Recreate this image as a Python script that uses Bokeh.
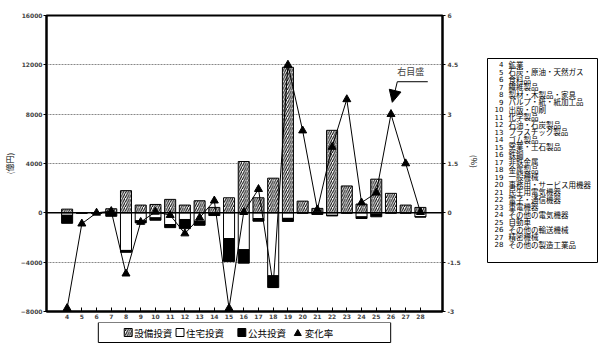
import math
from bokeh.plotting import figure
from bokeh.models import (Range1d, LinearAxis, FixedTicker, CustomJSTickFormatter, Span,
                          Label, Arrow, NormalHead, ColumnDataSource)
from bokeh.layouts import row, column
from bokeh.core.properties import value
from bokeh.embed import file_html
from bokeh.resources import INLINE

# ---------------- data ----------------
cats = list(range(4, 29))
equip = [300, 0, 0, 330, 1800, 630, 680, 1090, 630, 980, 440, 1220, 4160, 1220,
         2810, 11800, 950, 360, 6690, 2180, 710, 2730, 1580, 630, 440]
housing = [-200, 0, 0, -60, -3050, -650, -410, -950, -540, -680, -30, -2090, -2990, -460,
           -5110, -450, 0, 0, -200, 0, -330, -100, 0, 0, -330]
public = [-650, 0, 0, -220, -150, -165, -190, -250, -740, -330, -190, -1850, -1090, -220,
          -950, -250, 0, -130, -50, 0, -130, -220, 0, 0, 0]
rate = [-2.9, -0.33, 0.0, 0.05, -1.85, -0.28, 0.03, -0.07, -0.63, -0.15, 0.37, -2.9, 0.02, 0.72,
        -2.2, 4.5, 2.5, 0.1, 2.0, 3.45, 0.31, 0.61, 3.0, 1.5, 0.02]
left_ticks = [-8000, -4000, 0, 4000, 8000, 12000, 16000]
right_ticks = [-3, -1.5, 0, 1.5, 3, 4.5, 6]
industries = ["鉱業", "石炭・原油・天然ガス", "食料品", "繊維製品", "製材・木製品・家具",
              "パルプ・紙・紙加工品", "出版・印刷", "化学製品", "石油・石炭製品", "プラスチック製品",
              "ゴム製品", "窯業・土石製品", "鉄鋼", "非鉄金属", "金属製品", "一般機械",
              "事務用・サービス用機器", "民生用電気機器", "電子・通信機器", "重電機器",
              "その他の電気機器", "自動車", "その他の輸送機械", "精密機械", "その他の製造工業品"]
series_names = ["設備投資", "住宅投資", "公共投資", "変化率"]
left_unit = "(億円)"
right_unit = "(%)"

JP = "Noto Sans CJK JP"
NUMF = "DejaVu Sans"
HATCH = dict(hatch_pattern="/", hatch_color="black", hatch_scale=4.5, hatch_weight=1)

src = ColumnDataSource(dict(
    x=cats, eq=equip, ho=housing,
    hp=[h + g for h, g in zip(housing, public)],
    rate=rate))

xr = Range1d(2.6, 29.5)
p = figure(width=448, height=322, x_range=xr, y_range=Range1d(-8000, 16000),
           output_backend="svg", toolbar_location=None,
           min_border_left=25, min_border_right=23, min_border_top=15, min_border_bottom=11)
p.extra_y_ranges = {"pct": Range1d(-3, 6)}
p.outline_line_color = "black"
p.outline_line_width = 2

# grid
p.xgrid.visible = False
p.ygrid.ticker = FixedTicker(ticks=[t for t in left_ticks if t != 0])
p.ygrid.grid_line_color = "#888888"
p.ygrid.grid_line_dash = "2 1"
p.ygrid.grid_line_width = 1

# bars
p.vbar(x="x", top="eq", bottom=0, width=0.75, source=src, fill_color="white",
       line_color="black", line_width=1, **HATCH)
p.vbar(x="x", top=0, bottom="ho", width=0.75, source=src, fill_color="white",
       line_color="black", line_width=1)
p.vbar(x="x", top="ho", bottom="hp", width=0.75, source=src, fill_color="black",
       line_color="black", line_width=1)

p.add_layout(Span(location=0, dimension="width", line_color="black", line_width=1.5))

# rate line
p.line(x="x", y="rate", source=src, y_range_name="pct", line_color="black", line_width=1)
p.scatter(x="x", y="rate", source=src, y_range_name="pct", marker="triangle",
          size=8, fill_color="black", line_color="black")

# axes
xa = p.xaxis[0]
xa.ticker = FixedTicker(ticks=cats)
xa.major_tick_in = 4
xa.major_tick_out = 0
xa.minor_tick_line_color = None
xa.axis_line_width = 2
xa.major_label_text_font = NUMF
xa.major_label_text_font_size = "6px"
xa.major_label_text_font_style = "bold"
xa.major_label_standoff = 2

ya = p.yaxis[0]
ya.ticker = FixedTicker(ticks=left_ticks)
ya.major_tick_in = 0
ya.major_tick_out = 3
ya.minor_tick_line_color = None
ya.axis_line_width = 2
ya.major_label_text_font = NUMF
ya.major_label_text_font_size = "6px"
ya.major_label_text_font_style = "bold"
ya.major_label_standoff = 1

ra = LinearAxis(y_range_name="pct", ticker=FixedTicker(ticks=right_ticks),
                formatter=CustomJSTickFormatter(code="return String(tick);"))
ra.major_tick_in = 0
ra.major_tick_out = 3
ra.minor_tick_line_color = None
ra.axis_line_width = 2
ra.major_label_text_font = NUMF
ra.major_label_text_font_size = "6px"
ra.major_label_text_font_style = "bold"
ra.major_label_standoff = 2
p.add_layout(ra, "right")

# annotation "右目盛" pointing at the rate point of category 26
i26 = cats.index(26)
ax, ay = cats[i26], rate[i26] * 8000 / 3.0
p.add_layout(Label(x=ax + 0.43, y=ay + 3420, text="右目盛", text_font=JP, text_font_size="9px",
                   text_baseline="middle", text_align="left"))
p.segment(x0=[ax + 0.43], y0=[ay + 2630], x1=[ax + 2.5], y1=[ay + 2630], line_color="black",
          line_width=1)
p.add_layout(Arrow(end=NormalHead(size=12, fill_color="black", line_color="black"),
                   x_start=ax + 0.43, y_start=ay + 2630, x_end=ax + 0.09, y_end=ay + 960,
                   line_color="black", line_width=1))

# bottom legend strip: shares the category x range, pixel y
leg = figure(width=448, height=29, x_range=xr, y_range=Range1d(29, 0),
             output_backend="svg", toolbar_location=None, min_border=0,
             x_axis_location=None, y_axis_location=None)
leg.grid.visible = False
leg.outline_line_color = None
leg.quad(left=[6.12], right=[25.98], top=[0], bottom=[20], fill_color="white",
         line_color="black", line_width=1)
gx = [7.88, 11.4, 15.6]
gw = 0.54
leg.quad(left=[gx[0]], right=[gx[0] + gw], top=[6], bottom=[14], fill_color="white",
         line_color="black", line_width=1, **HATCH)
leg.quad(left=[gx[1]], right=[gx[1] + gw], top=[6], bottom=[14], fill_color="white",
         line_color="black", line_width=1)
leg.quad(left=[gx[2]], right=[gx[2] + gw], top=[6], bottom=[14], fill_color="black",
         line_color="black", line_width=1)
leg.scatter(x=[19.67], y=[11], marker="triangle", size=7, fill_color="black", line_color="black")
leg.text(x=[8.56, 12.08, 16.28, 20.15], y=[10.5] * 4, text=series_names, text_font=value(JP),
         text_font_size="9.5px", text_align="left", text_baseline="middle")

# left strip with the left-axis unit (pixel coordinates)
s = figure(width=17, height=351, x_range=Range1d(0, 17), y_range=Range1d(351, 0),
           output_backend="svg", toolbar_location=None, min_border=0,
           x_axis_location=None, y_axis_location=None)
s.grid.visible = False
s.outline_line_color = None
s.text(x=[8.5], y=[163], text=[left_unit], angle=math.pi / 2, text_font=value(JP),
       text_font_size="8px", text_align="center", text_baseline="middle")

# right-hand strip: right-axis unit and list box (pixel coordinates)
q = figure(width=135, height=351, x_range=Range1d(465, 600), y_range=Range1d(351, 0),
           output_backend="svg", toolbar_location=None, min_border=0,
           x_axis_location=None, y_axis_location=None)
q.grid.visible = False
q.outline_line_color = None
q.text(x=[474], y=[161], text=[right_unit], angle=-math.pi / 2, text_font=value(JP),
       text_font_size="8px", text_align="center", text_baseline="middle")
q.quad(left=[487], right=[597], top=[58], bottom=[262], fill_color="white",
       line_color="black", line_width=1)
ys = [63.5 + 7.52 * i for i in range(len(cats))]
q.text(x=[503] * len(cats), y=ys, text=[str(c) for c in cats], text_font=value(NUMF),
       text_font_size="7px", text_align="right", text_baseline="middle")
q.text(x=[508] * len(cats), y=ys, text=industries, text_font=value(JP),
       text_font_size="7.5px", text_align="left", text_baseline="middle")

layout = row(s, column(p, leg, spacing=0), q, spacing=0)
open("out.html", "w").write(file_html(layout, INLINE))
